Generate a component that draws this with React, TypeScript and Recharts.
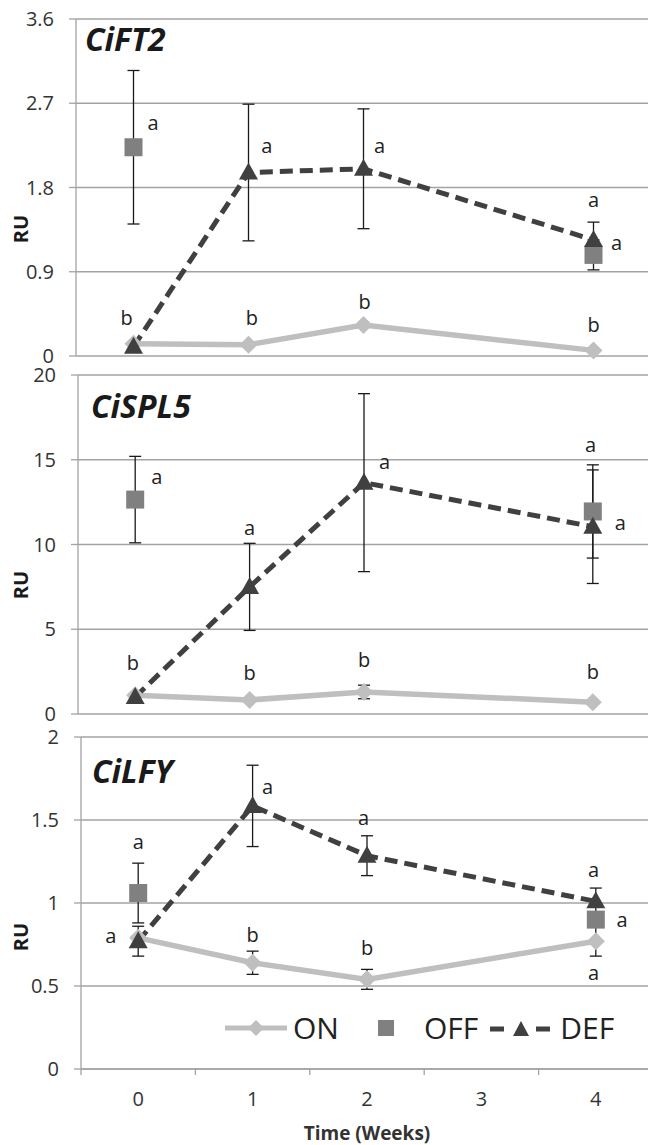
import React from "react";
import {
  ComposedChart,
  Line,
  XAxis,
  YAxis,
  CartesianGrid,
  ErrorBar,
  ReferenceDot,
  Legend,
} from "recharts";

const FONT = '"Open Sans", "DejaVu Sans", sans-serif';
const GRID = "#a3a3a3";
const ON_COLOR = "#bfbfbf";
const OFF_COLOR = "#808080";
const DEF_COLOR = "#404040";
const BAR_COLOR = "#1a1a1a";

const weeks = [0, 1, 2, 4];
const weekTicks = [-0.5, 0, 0.5, 1, 1.5, 2, 2.5, 3, 3.5, 4, 4.5];
const seriesOrder = ["on", "off", "def"];

// CiFT2
const ft2Ticks = [0, 0.9, 1.8, 2.7, 3.6];
const ft2On = [0.13, 0.12, 0.33, 0.06];
const ft2OnErr = [null, null, null, null];
const ft2Off = [2.23, null, null, 1.08];
const ft2OffErr = [0.82, null, null, 0.16];
const ft2Def = [0.1, 1.96, 2.0, 1.24];
const ft2DefErr = [null, 0.73, 0.64, 0.19];
const ft2Letters = [
  { week: 0.17, ru: 2.49, text: "a" },
  { week: -0.06, ru: 0.41, text: "b" },
  { week: 1.16, ru: 2.24, text: "a" },
  { week: 1.03, ru: 0.41, text: "b" },
  { week: 2.14, ru: 2.24, text: "a" },
  { week: 2.01, ru: 0.58, text: "b" },
  { week: 4.0, ru: 1.67, text: "a" },
  { week: 4.2, ru: 1.21, text: "a" },
  { week: 4.0, ru: 0.33, text: "b" },
];

// CiSPL5
const spl5Ticks = [0, 5, 10, 15, 20];
const spl5On = [1.1, 0.83, 1.3, 0.7];
const spl5OnErr = [null, null, 0.4, null];
const spl5Off = [12.65, null, null, 11.95];
const spl5OffErr = [2.55, null, null, 2.75];
const spl5Def = [1.0, 7.5, 13.65, 11.05];
const spl5DefErr = [null, 2.57, 5.25, 3.35];
const spl5Letters = [
  { week: 0.19, ru: 14.0, text: "a" },
  { week: -0.02, ru: 3.0, text: "b" },
  { week: 1.0, ru: 11.0, text: "a" },
  { week: 1.0, ru: 2.4, text: "b" },
  { week: 2.18, ru: 14.9, text: "a" },
  { week: 2.0, ru: 3.2, text: "b" },
  { week: 3.98, ru: 15.9, text: "a" },
  { week: 4.24, ru: 11.3, text: "a" },
  { week: 4.0, ru: 2.5, text: "b" },
];

// CiLFY
const lfyTicks = [0, 0.5, 1, 1.5, 2];
const lfyOn = [0.79, 0.64, 0.54, 0.77];
const lfyOnErr = [null, 0.07, 0.06, 0.09];
const lfyOff = [1.06, null, null, 0.9];
const lfyOffErr = [0.18, null, null, null];
const lfyDef = [0.77, 1.585, 1.285, 1.01];
const lfyDefErr = [0.09, 0.245, 0.12, 0.08];
const lfyLetters = [
  { week: 0.0, ru: 1.37, text: "a" },
  { week: -0.24, ru: 0.8, text: "a" },
  { week: 1.13, ru: 1.7, text: "a" },
  { week: 1.0, ru: 0.81, text: "b" },
  { week: 1.97, ru: 1.51, text: "a" },
  { week: 2.0, ru: 0.73, text: "b" },
  { week: 3.98, ru: 1.2, text: "a" },
  { week: 4.23, ru: 0.9, text: "a" },
  { week: 3.98, ru: 0.58, text: "a" },
];

type Val = number | null;

function buildRows(
  on: Val[],
  onErr: Val[],
  off: Val[],
  offErr: Val[],
  def: Val[],
  defErr: Val[]
) {
  return weeks.map((week, i) => ({
    week,
    on: on[i],
    onErr: onErr[i],
    off: off[i],
    offErr: offErr[i],
    def: def[i],
    defErr: defErr[i],
  }));
}

const DiamondDot = (p: any) => {
  const { cx, cy, index } = p;
  if (cx == null || cy == null || p.value == null) return <g key={`on-${index}`} />;
  const h = 9;
  return (
    <path
      key={`on-${index}`}
      d={`M${cx},${cy - h}L${cx + h},${cy}L${cx},${cy + h}L${cx - h},${cy}Z`}
      fill={ON_COLOR}
    />
  );
};

const SquareDot = (p: any) => {
  const { cx, cy, index } = p;
  if (cx == null || cy == null || p.value == null) return <g key={`off-${index}`} />;
  return <rect key={`off-${index}`} x={cx - 9} y={cy - 9} width={18} height={18} fill={OFF_COLOR} />;
};

const TriangleDot = (p: any) => {
  const { cx, cy, index } = p;
  if (cx == null || cy == null || p.value == null) return <g key={`def-${index}`} />;
  return (
    <path
      key={`def-${index}`}
      d={`M${cx},${cy - 10}L${cx + 9.5},${cy + 7}L${cx - 9.5},${cy + 7}Z`}
      fill={DEF_COLOR}
    />
  );
};

const WeekTick = (props: any) => {
  const { x, y, payload } = props;
  const v = payload.value;
  if (Number.isInteger(v)) {
    return (
      <text x={x} y={y + 37} textAnchor="middle" fontSize={20} fill="#333" fontFamily={FONT}>
        {v}
      </text>
    );
  }
  return <line x1={x} y1={y} x2={x} y2={y + 6} stroke={GRID} strokeWidth={1.3} />;
};

const legendIcon = (key: string) => {
  if (key === "on")
    return (
      <svg width={62} height={20}>
        <line x1={0} y1={10} x2={62} y2={10} stroke={ON_COLOR} strokeWidth={5} />
        <path d="M31,2L39,10L31,18L23,10Z" fill={ON_COLOR} />
      </svg>
    );
  if (key === "off")
    return (
      <svg width={16} height={20} style={{ marginLeft: 39 }}>
        <rect x={0} y={2} width={16} height={16} fill={OFF_COLOR} />
      </svg>
    );
  return (
    <svg width={60} height={20} style={{ marginLeft: 12 }}>
      <line x1={0} y1={11} x2={14} y2={11} stroke={DEF_COLOR} strokeWidth={5} />
      <line x1={46} y1={11} x2={60} y2={11} stroke={DEF_COLOR} strokeWidth={5} />
      <path d="M31,3L39,18L23,18Z" fill={DEF_COLOR} />
    </svg>
  );
};

const textGap: Record<string, number> = { on: 6, off: 30, def: 10 };

const LegendContent = (props: any) => {
  const items = [...(props.payload ?? [])].sort(
    (a: any, b: any) => seriesOrder.indexOf(a.dataKey) - seriesOrder.indexOf(b.dataKey)
  );
  return (
    <div
      style={{
        display: "flex",
        alignItems: "center",
        fontFamily: FONT,
        fontSize: 30,
        lineHeight: "40px",
        color: "#222",
        whiteSpace: "nowrap",
      }}
    >
      {items.map((it: any) => (
        <div key={it.dataKey} style={{ display: "flex", alignItems: "center" }}>
          {legendIcon(it.dataKey)}
          <span style={{ marginLeft: textGap[it.dataKey] }}>{it.value}</span>
        </div>
      ))}
    </div>
  );
};

type PanelProps = {
  rows: ReturnType<typeof buildRows>;
  ticks: number[];
  letters: { week: number; ru: number; text: string }[];
  margin: { top: number; bottom: number; left: number; right: number };
  showX?: boolean;
};

function GenePanel({ rows, ticks, letters, margin, showX }: PanelProps) {
  return (
    <div style={{ position: "absolute", left: 0, top: 0 }}>
      <ComposedChart width={660} height={1145} data={rows} margin={margin}>
        <CartesianGrid vertical={false} stroke={GRID} strokeWidth={1.3} />
        <XAxis
          type="number"
          dataKey="week"
          domain={[-0.5, 4.5]}
          ticks={weekTicks}
          interval={0}
          hide={!showX}
          height={76}
          axisLine={{ stroke: GRID, strokeWidth: 1.3 }}
          tickLine={false}
          tickSize={0}
          tickMargin={0}
          tick={<WeekTick />}
          label={{
            value: "Time (Weeks)",
            position: "insideBottom",
            offset: 5,
            fontSize: 19,
            fontWeight: 700,
            fill: "#333",
            fontFamily: FONT,
          }}
        />
        <YAxis
          type="number"
          domain={[0, ticks[ticks.length - 1]]}
          ticks={ticks}
          interval={0}
          width={60}
          axisLine={{ stroke: GRID, strokeWidth: 1.3 }}
          tickLine={{ stroke: GRID, strokeWidth: 1.3 }}
          tickSize={7}
          tickMargin={15}
          tick={{ fontSize: 20, fill: "#333", fontFamily: FONT }}
        />
        <Line
          dataKey="on"
          name="ON"
          stroke={ON_COLOR}
          strokeWidth={5.5}
          dot={DiamondDot}
          activeDot={false}
          isAnimationActive={false}
        >
          <ErrorBar dataKey="onErr" width={6} stroke={BAR_COLOR} strokeWidth={1.3} direction="y" />
        </Line>
        <Line
          dataKey="off"
          name="OFF"
          stroke="none"
          dot={SquareDot}
          activeDot={false}
          isAnimationActive={false}
        >
          <ErrorBar dataKey="offErr" width={6} stroke={BAR_COLOR} strokeWidth={1.3} direction="y" />
        </Line>
        <Line
          dataKey="def"
          name="DEF"
          stroke={DEF_COLOR}
          strokeWidth={5}
          strokeDasharray="13 7"
          dot={TriangleDot}
          activeDot={false}
          isAnimationActive={false}
        >
          <ErrorBar dataKey="defErr" width={6} stroke={BAR_COLOR} strokeWidth={1.3} direction="y" />
        </Line>
        {letters.map((l, i) => (
          <ReferenceDot
            key={i}
            x={l.week}
            y={l.ru}
            r={0}
            fill="none"
            stroke="none"
            label={{ value: l.text, position: "center", fontSize: 20, fill: "#222", fontFamily: FONT }}
          />
        ))}
        {showX && (
          <Legend
            layout="horizontal"
            verticalAlign="middle"
            align="center"
            content={<LegendContent />}
            wrapperStyle={{ top: 1008, left: 225, width: 420, height: 40 }}
          />
        )}
      </ComposedChart>
    </div>
  );
}

const titleStyle = { fontFamily: FONT, fontSize: 32, fontWeight: 700, fontStyle: "italic", fill: "#1a1a1a" } as const;
const ruStyle = { fontFamily: FONT, fontSize: 20, fontWeight: 700, fill: "#1a1a1a" } as const;

export default function App() {
  return (
    <div
      style={{
        position: "absolute",
        left: 0,
        top: 0,
        width: 648,
        height: 1145,
        overflow: "hidden",
        background: "#fff",
      }}
    >
      <GenePanel
        rows={buildRows(ft2On, ft2OnErr, ft2Off, ft2OffErr, ft2Def, ft2DefErr)}
        ticks={ft2Ticks}
        letters={ft2Letters}
        margin={{ top: 19, bottom: 789, left: 16, right: 9 }}
      />
      <GenePanel
        rows={buildRows(spl5On, spl5OnErr, spl5Off, spl5OffErr, spl5Def, spl5DefErr)}
        ticks={spl5Ticks}
        letters={spl5Letters}
        margin={{ top: 375, bottom: 431, left: 18, right: 10 }}
      />
      <GenePanel
        rows={buildRows(lfyOn, lfyOnErr, lfyOff, lfyOffErr, lfyDef, lfyDefErr)}
        ticks={lfyTicks}
        letters={lfyLetters}
        margin={{ top: 737, bottom: 0, left: 21, right: 7 }}
        showX
      />
      <svg
        width={648}
        height={1145}
        style={{ position: "absolute", left: 0, top: 0, pointerEvents: "none" }}
      >
        <text x={85} y={51} {...titleStyle}>CiFT2</text>
        <text x={91} y={418} {...titleStyle}>CiSPL5</text>
        <text x={92} y={783} {...titleStyle}>CiLFY</text>
        <text transform="translate(28,229) rotate(-90)" textAnchor="middle" {...ruStyle}>RU</text>
        <text transform="translate(28,585) rotate(-90)" textAnchor="middle" {...ruStyle}>RU</text>
        <text transform="translate(28,937) rotate(-90)" textAnchor="middle" {...ruStyle}>RU</text>
      </svg>
    </div>
  );
}
